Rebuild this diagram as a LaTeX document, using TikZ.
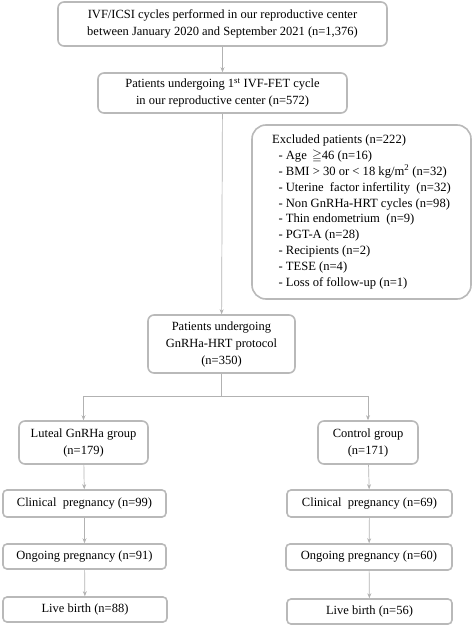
\documentclass[tikz,border=0pt]{standalone}
\usepackage{amssymb}
\usepackage{fontspec}
\setmainfont{Liberation Serif}
\usetikzlibrary{arrows.meta}
\tikzset{
  box/.style={draw=gray!55, line width=1.6pt, rounded corners=6pt, fill=white,
    inner sep=0pt, align=center, font=\fontsize{12.5}{17}\selectfont},
  conn/.style={draw=gray!60, line width=0.7pt, -{Stealth[length=5pt,width=4pt]}},
  plain/.style={draw=gray!60, line width=0.7pt}
}
\begin{document}
\begin{tikzpicture}[x=1pt,y=-1pt]
\useasboundingbox (0,0) rectangle (474,626);
\node[box, minimum width=329pt, minimum height=44pt] (b1) at (222.5,24)
  {IVF/ICSI cycles performed in our reproductive center\\between January 2020 and September 2021 (n=1,376)};
\node[box, minimum width=249pt, minimum height=40pt] (b2) at (222.5,93)
  {Patients undergoing 1\textsuperscript{st} IVF-FET cycle\\in our reproductive center (n=572)};
\node[box, rounded corners=14pt, minimum width=219pt, minimum height=174pt, align=left,
  font=\fontsize{12.6}{15.9}\selectfont] (ex) at (361.5,212)
  {Excluded patients (n=222)\\
   \ \ - Age \,$\geqq$46 (n=16)\\
   \ \ - BMI > 30 or < 18 kg/m\textsuperscript{2} (n=32)\\
   \ \ - Uterine\ \ factor infertility\ \ (n=32)\\
   \ \ - Non GnRHa-HRT cycles (n=98)\\
   \ \ - Thin endometrium\ \ (n=9)\\
   \ \ - PGT-A (n=28)\\
   \ \ - Recipients (n=2)\\
   \ \ - TESE (n=4)\\
   \ \ - Loss of follow-up (n=1)};
\node[box, minimum width=147pt, minimum height=58pt] (b4) at (221.5,344)
  {Patients undergoing\\GnRHa-HRT protocol\\(n=350)};
\node[box, minimum width=129pt, minimum height=43pt] (L1) at (83.5,442.5)
  {Luteal GnRHa group\\(n=179)};
\node[box, minimum width=100pt, minimum height=43pt] (R1) at (368,442.5)
  {Control group\\(n=171)};
\node[box, rounded corners=4pt, minimum width=163pt, minimum height=27pt] (L2) at (84.5,503.5)
  {Clinical\ \ pregnancy (n=99)};
\node[box, rounded corners=4pt, minimum width=165pt, minimum height=27pt] (R2) at (369.5,503.5)
  {Clinical\ \ pregnancy (n=69)};
\node[box, rounded corners=4pt, minimum width=163pt, minimum height=25pt] (L3) at (84.5,556.5)
  {Ongoing pregnancy (n=91)};
\node[box, rounded corners=4pt, minimum width=166pt, minimum height=26pt] (R3) at (369,557)
  {Ongoing pregnancy (n=60)};
\node[box, rounded corners=4pt, minimum width=164pt, minimum height=25pt] (L4) at (85,609.5)
  {Live birth (n=88)};
\node[box, rounded corners=4pt, minimum width=165pt, minimum height=25pt] (R4) at (369.5,611.5)
  {Live birth (n=56)};
\coordinate (split) at (221.5,396);
\draw[conn] (b1) -- (b2);
\draw[conn] (b2) -- (b4);
\draw[plain] (b4) -- (split);
\draw[conn] (split) -| (L1);
\draw[conn] (split) -| (R1);
\draw[conn] (L1) -- (L2);
\draw[conn] (L2) -- (L3);
\draw[conn] (L3) -- (L4);
\draw[conn] (R1) -- (R2);
\draw[conn] (R2) -- (R3);
\draw[conn] (R3) -- (R4);
\end{tikzpicture}
\end{document}
